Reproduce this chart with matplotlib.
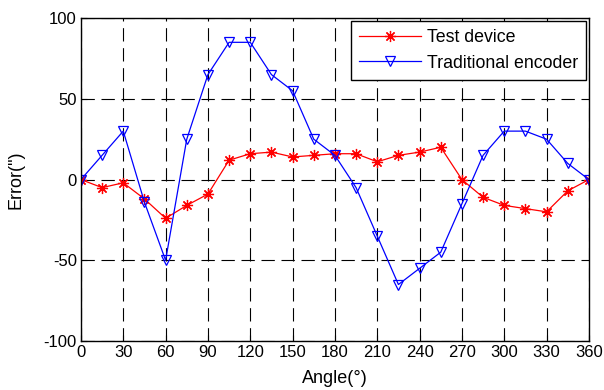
import numpy as np
import matplotlib
matplotlib.use("Agg")
import matplotlib.pyplot as plt

angle = list(range(0, 361, 15))
test_device = [0, -5, -2, -12, -24, -16, -9, 12, 16, 17, 14, 15, 16,
               16, 11, 15, 17, 20, 0, -11, -16, -18, -20, -7, 0]
traditional = [0, 15, 30, -14, -50, 25, 65, 85, 85, 65, 55, 25, 15,
               -5, -35, -65, -55, -45, -15, 15, 30, 30, 25, 10, 0]
xticks = list(range(0, 361, 30))
yticks = [-100, -50, 0, 50, 100]

plt.rcParams["font.family"] = ["Liberation Sans", "DejaVu Sans"]
plt.rcParams["font.size"] = 12
plt.rcParams["axes.unicode_minus"] = False

fig = plt.figure(figsize=(6.04, 3.9), dpi=100)
ax = fig.add_axes([0.134, 0.1256, 0.841, 0.828])

ax.plot(angle, test_device, "r-", marker=(8, 2, 0), ms=8, mew=0.9, lw=0.9,
        label="Test device")
ax.plot(angle, traditional, "b-", marker="v", ms=7, mfc="none", mew=0.9, lw=0.9,
        label="Traditional encoder")

ax.set_xlim(0, 360)
ax.set_ylim(-100, 100)
ax.set_xticks(xticks)
ax.set_yticks(yticks)
ax.grid(True, color="black", linestyle=(0, (12, 6)), linewidth=0.8)
ax.tick_params(direction="in", length=4, width=0.8, pad=3)
for s in ax.spines.values():
    s.set_linewidth(1.0)

ax.set_xlabel("Angle(°)", fontsize=13, va="top")
ax.set_ylabel("Error(\")", fontsize=13)
ax.xaxis.set_label_coords(0.5, -0.09)
ax.yaxis.set_label_coords(-0.112, 0.5)

leg = ax.legend(loc="upper right", fancybox=False, framealpha=1, edgecolor="black",
                fontsize=12.8, borderaxespad=0.15, handlelength=3.5,
                handletextpad=0.35, borderpad=0.45, labelspacing=0.5)
leg.get_frame().set_linewidth(1.0)

fig.savefig("out.png", dpi=100)
